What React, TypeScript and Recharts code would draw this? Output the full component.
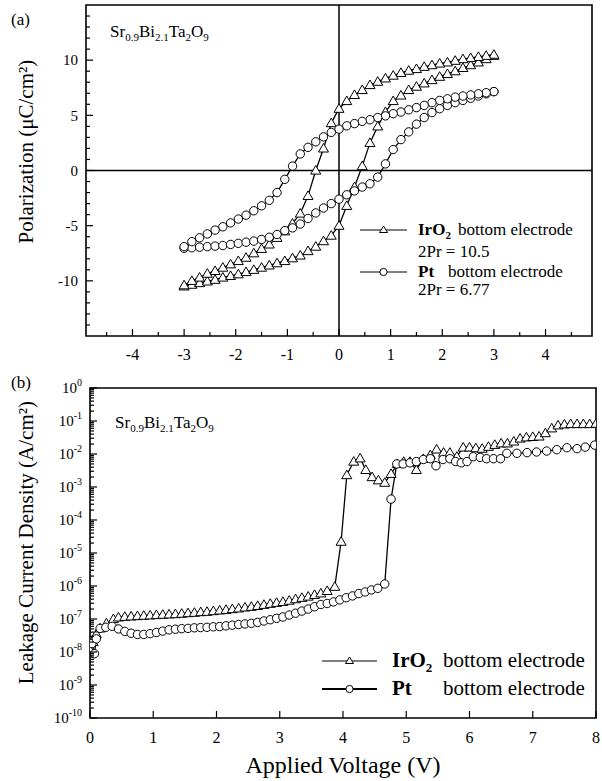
import React from 'react';
import { LineChart, Line, XAxis, YAxis, ReferenceLine, ReferenceArea } from 'recharts';

const FONT = '"Liberation Serif", "DejaVu Serif", "Noto Serif", serif';

// (a) polarization loops, voltage steps of the sweep (V)
const sweepUp = [-3, -2.85, -2.7, -2.55, -2.4, -2.25, -2.1, -1.95, -1.8, -1.65, -1.5, -1.35, -1.2, -1.05, -0.9, -0.75, -0.6, -0.45, -0.3, -0.15, 0, 0.15, 0.3, 0.45, 0.6, 0.75, 0.9, 1.05, 1.2, 1.35, 1.5, 1.65, 1.8, 1.95, 2.1, 2.25, 2.4, 2.55, 2.7, 2.85, 3];
const sweepDown = [...sweepUp].reverse();

// polarization (uC/cm2)
const irO2Up = [-10.5, -10.35, -10.2, -10.05, -9.9, -9.7, -9.55, -9.4, -9.2, -9.0, -8.8, -8.6, -8.4, -8.2, -7.95, -7.7, -7.3, -6.9, -6.4, -5.9, -5.0, -3.2, -1.5, 0.4, 2.5, 4.0, 5.3, 6.3, 6.8, 7.3, 7.6, 7.9, 8.2, 8.5, 8.75, 9.0, 9.3, 9.55, 9.8, 10.1, 10.4];
const irO2Down = [10.5, 10.4, 10.3, 10.2, 10.1, 9.95, 9.8, 9.7, 9.55, 9.4, 9.2, 9.05, 8.85, 8.6, 8.35, 8.05, 7.75, 7.3, 6.85, 6.3, 5.6, 4.3, 2.0, 0.0, -2.3, -3.9, -4.8, -5.5, -6.1, -6.7, -7.1, -7.5, -7.9, -8.2, -8.5, -8.8, -9.1, -9.35, -9.7, -10.0, -10.4];
const ptUp = [-7.05, -7.0, -6.95, -6.9, -6.85, -6.8, -6.7, -6.6, -6.5, -6.4, -6.25, -6.05, -5.8, -5.45, -5.2, -4.85, -4.35, -3.85, -3.4, -3.0, -2.6, -2.2, -1.85, -1.5, -1.2, -0.6, 0.6, 1.9, 2.8, 3.5, 4.2, 4.8, 5.25, 5.6, 5.9, 6.15, 6.35, 6.55, 6.75, 6.95, 7.15];
const ptDown = [7.15, 7.05, 6.95, 6.85, 6.75, 6.65, 6.5, 6.35, 6.15, 5.9, 5.7, 5.5, 5.3, 5.15, 4.95, 4.8, 4.6, 4.45, 4.25, 4.05, 3.75, 3.45, 3.05, 2.6, 2.1, 1.5, 0.4, -0.8, -2.0, -2.7, -3.2, -3.65, -4.05, -4.4, -4.75, -5.1, -5.4, -5.75, -6.1, -6.45, -6.9];

// (b) leakage current density (A/cm2) vs applied voltage (V)
const irO2Volts = [0, 0.05, 0.1, 0.16, 0.26, 0.37, 0.45, 0.55, 0.65, 0.75, 0.85, 0.95, 1.05, 1.15, 1.25, 1.35, 1.45, 1.55, 1.65, 1.75, 1.85, 1.95, 2.05, 2.15, 2.25, 2.35, 2.45, 2.55, 2.65, 2.75, 2.85, 2.95, 3.05, 3.15, 3.25, 3.35, 3.45, 3.55, 3.65, 3.75, 3.87, 3.97, 4.06, 4.17, 4.27, 4.36, 4.46, 4.56, 4.66, 4.76, 4.86, 4.96, 5.06, 5.16, 5.27, 5.38, 5.48, 5.59, 5.69, 5.8, 5.9, 6.0, 6.1, 6.2, 6.3, 6.4, 6.5, 6.6, 6.7, 6.8, 6.9, 7.0, 7.1, 7.2, 7.3, 7.4, 7.5, 7.6, 7.7, 7.8, 7.9, 8.0];
const irO2Current = [1.15e-8, 2.0e-8, 3.5e-8, 5.2e-8, 7.4e-8, 1.0e-7, 1.12e-7, 1.17e-7, 1.2e-7, 1.23e-7, 1.26e-7, 1.29e-7, 1.32e-7, 1.35e-7, 1.38e-7, 1.41e-7, 1.45e-7, 1.51e-7, 1.55e-7, 1.62e-7, 1.66e-7, 1.74e-7, 1.82e-7, 1.9e-7, 2.0e-7, 2.1e-7, 2.24e-7, 2.35e-7, 2.5e-7, 2.7e-7, 2.9e-7, 3.1e-7, 3.3e-7, 3.6e-7, 4.0e-7, 4.4e-7, 4.8e-7, 5.4e-7, 6.0e-7, 7.1e-7, 9.5e-7, 2.2e-5, 2.3e-3, 5.9e-3, 7.4e-3, 3.3e-3, 2.0e-3, 1.6e-3, 1.35e-3, 2.5e-3, 5.0e-3, 5.8e-3, 5.8e-3, 3.3e-3, 7.1e-3, 9.3e-3, 1.38e-2, 1.1e-2, 1.1e-2, 8.3e-3, 1.58e-2, 1.58e-2, 1.5e-2, 1.45e-2, 1.66e-2, 1.9e-2, 2.1e-2, 2.1e-2, 2.4e-2, 2.95e-2, 3.2e-2, 3.3e-2, 3.4e-2, 4.3e-2, 6.0e-2, 7.4e-2, 7.9e-2, 8.1e-2, 8.1e-2, 8.1e-2, 8.1e-2, 8.3e-2];
const ptVolts = [0.03, 0.07, 0.1, 0.16, 0.25, 0.35, 0.45, 0.55, 0.65, 0.75, 0.85, 0.95, 1.05, 1.15, 1.25, 1.35, 1.45, 1.55, 1.65, 1.75, 1.85, 1.95, 2.05, 2.15, 2.25, 2.35, 2.45, 2.55, 2.65, 2.75, 2.85, 2.95, 3.05, 3.15, 3.25, 3.35, 3.45, 3.55, 3.65, 3.75, 3.85, 3.95, 4.05, 4.15, 4.25, 4.35, 4.45, 4.55, 4.66, 4.76, 4.85, 4.95, 5.06, 5.16, 5.27, 5.38, 5.47, 5.58, 5.69, 5.78, 5.87, 5.96, 6.06, 6.17, 6.27, 6.38, 6.49, 6.59, 6.75, 6.91, 7.06, 7.22, 7.38, 7.54, 7.7, 7.83, 7.98];
const ptCurrent = [1.8e-8, 8.9e-9, 2.5e-8, 5.2e-8, 5.6e-8, 6.0e-8, 5.0e-8, 4.2e-8, 3.7e-8, 3.4e-8, 3.4e-8, 3.6e-8, 3.9e-8, 4.3e-8, 4.7e-8, 4.9e-8, 5.1e-8, 5.2e-8, 5.4e-8, 5.5e-8, 5.6e-8, 5.8e-8, 5.9e-8, 6.2e-8, 6.5e-8, 6.8e-8, 7.1e-8, 7.4e-8, 7.9e-8, 8.7e-8, 9.5e-8, 1.05e-7, 1.15e-7, 1.32e-7, 1.5e-7, 1.74e-7, 2.0e-7, 2.35e-7, 2.75e-7, 2.95e-7, 3.3e-7, 3.8e-7, 4.4e-7, 5.0e-7, 5.9e-7, 6.6e-7, 7.6e-7, 8.5e-7, 1.15e-6, 4.3e-4, 5.0e-3, 5.0e-3, 5.4e-3, 5.9e-3, 6.8e-3, 7.2e-3, 4.4e-3, 6.8e-3, 7.2e-3, 5.9e-3, 5.4e-3, 5.9e-3, 8.3e-3, 7.9e-3, 7.2e-3, 7.2e-3, 7.2e-3, 1.05e-2, 1.05e-2, 1.1e-2, 1.15e-2, 1.23e-2, 1.35e-2, 1.55e-2, 1.45e-2, 1.62e-2, 1.86e-2];

// axis ticks
const polTicks: number[] = [];
for (let i = -14; i <= 14; i++) polTicks.push(i);
const polMajor = [-10, -5, 0, 5, 10];
const fieldTicks: number[] = [];
for (let i = -9; i <= 9; i++) fieldTicks.push(i / 2);
const fieldMajor = [-4, -3, -2, -1, 0, 1, 2, 3, 4];
const voltTicks = [0, 1, 2, 3, 4, 5, 6, 7, 8];
const decadeExps = [-10, -9, -8, -7, -6, -5, -4, -3, -2, -1, 0];
const decades = decadeExps.map((e) => Number(`1e${e}`));
const currentTicks: number[] = [...decades];
for (let e = -10; e < 0; e++) for (let m = 2; m <= 9; m++) currentTicks.push(m * Math.pow(10, e));

const zip = (xs: number[], ys: number[], k: string) =>
  xs.slice(0, Math.min(xs.length, ys.length)).map((x, i) => ({ v: x, [k]: ys[i] }));

const triangleDot = (props: any) => {
  const { cx, cy, index } = props;
  if (cx == null || cy == null) return <g key={index} />;
  return (
    <path key={index} d={`M${cx},${cy - 5} L${cx + 5},${cy + 3.6} L${cx - 5},${cy + 3.6} Z`}
      fill="#fff" stroke="#000" strokeWidth={1} />
  );
};
const circleDot = (props: any) => {
  const { cx, cy, index } = props;
  if (cx == null || cy == null) return <g key={index} />;
  return <circle key={index} cx={cx} cy={cy} r={4.2} fill="#fff" stroke="#000" strokeWidth={1} />;
};

const leftTick = (majors: number[], fmt: (v: number) => React.ReactNode) => (props: any) => {
  const { x, y, payload } = props;
  const major = majors.includes(payload.value);
  return (
    <g>
      <line x1={x} y1={y} x2={x + (major ? 7 : 4)} y2={y} stroke="#000" strokeWidth={1.2} />
      {major && (
        <text x={x - 8} y={y} dy="0.35em" textAnchor="end" fontFamily={FONT} fontSize={15} fill="#000">
          {fmt(payload.value)}
        </text>
      )}
    </g>
  );
};

const bottomTick = (majors: number[], gap: number) => (props: any) => {
  const { x, y, payload } = props;
  const major = majors.includes(payload.value);
  return (
    <g>
      <line x1={x} y1={y} x2={x} y2={y - (major ? 7 : 4)} stroke="#000" strokeWidth={1.2} />
      {major && (
        <text x={x} y={y + gap} textAnchor="middle" fontFamily={FONT} fontSize={16} fill="#000">
          {String(payload.value)}
        </text>
      )}
    </g>
  );
};

const decadeLabel = (v: number) => {
  const e = decadeExps[decades.indexOf(v)];
  return (
    <>
      10<tspan dy={-7} fontSize={10}>{String(e)}</tspan>
    </>
  );
};

const Formula = () => (
  <span>
    Sr<sub style={{ fontSize: 11 }}>0.9</sub>Bi<sub style={{ fontSize: 11 }}>2.1</sub>Ta
    <sub style={{ fontSize: 11 }}>2</sub>O<sub style={{ fontSize: 11 }}>9</sub>
  </span>
);

const Symbol = ({ shape, width, sw }: { shape: 'tri' | 'circ'; width: number; sw: number }) => (
  <svg width={width} height={12} style={{ display: 'block' }}>
    <line x1={0} y1={6} x2={width} y2={6} stroke="#000" strokeWidth={sw} />
    {shape === 'tri' ? (
      <path d={`M${width / 2},2 L${width / 2 + 4},8.5 L${width / 2 - 4},8.5 Z`} fill="#fff" stroke="#000" strokeWidth={1} />
    ) : (
      <circle cx={width / 2} cy={6} r={3.6} fill="#fff" stroke="#000" strokeWidth={1} />
    )}
  </svg>
);

const at = (left: number, center: number, size: number, extra: React.CSSProperties = {}): React.CSSProperties => ({
  position: 'absolute',
  left,
  top: center - size * 0.6,
  fontSize: size,
  lineHeight: `${size * 1.2}px`,
  whiteSpace: 'nowrap',
  ...extra,
});

const rotated = (cx: number, cy: number, size: number): React.CSSProperties => ({
  position: 'absolute',
  left: cx - 200,
  top: cy - size * 0.6,
  width: 400,
  textAlign: 'center',
  fontSize: size,
  lineHeight: `${size * 1.2}px`,
  whiteSpace: 'nowrap',
  transform: 'rotate(-90deg)',
});

export default function App() {
  const lineProps = { stroke: '#000', strokeWidth: 1.3, type: 'linear' as const, isAnimationActive: false, activeDot: false };
  return (
    <div style={{ position: 'absolute', left: 0, top: 0, width: 602, height: 781, background: '#fff', fontFamily: FONT, color: '#000' }}>
      <div style={{ position: 'absolute', left: 0, top: 0 }}>
        <LineChart width={602} height={366} margin={{ top: 5, right: 10, bottom: 0, left: 0 }}>
          <XAxis dataKey="v" type="number" domain={[-4.9, 4.9]} ticks={fieldTicks} interval={0} height={30}
            tickSize={0} tickMargin={0} axisLine={false} tickLine={false} tick={bottomTick(fieldMajor, 24)} allowDataOverflow />
          <YAxis type="number" domain={[-15, 15]} ticks={polTicks} interval={0} width={86}
            tickSize={0} tickMargin={0} axisLine={false} tickLine={false} tick={leftTick(polMajor, (v) => String(v))} allowDataOverflow />
          <ReferenceArea x1={-4.9} x2={4.9} y1={-15} y2={15} fill="none" stroke="#000" strokeWidth={1.6} />
          <ReferenceLine x={0} stroke="#000" strokeWidth={1.5} />
          <ReferenceLine y={0} stroke="#000" strokeWidth={1.5} />
          <Line data={zip(sweepUp, irO2Up, 'p')} dataKey="p" dot={triangleDot} {...lineProps} />
          <Line data={zip(sweepDown, irO2Down, 'p')} dataKey="p" dot={triangleDot} {...lineProps} />
          <Line data={zip(sweepUp, ptUp, 'p')} dataKey="p" dot={circleDot} {...lineProps} />
          <Line data={zip(sweepDown, ptDown, 'p')} dataKey="p" dot={circleDot} {...lineProps} />
        </LineChart>
      </div>

      <div style={{ position: 'absolute', left: 0, top: 368 }}>
        <LineChart width={602} height={413} margin={{ top: 20, right: 6, bottom: 0, left: 0 }}>
          <XAxis dataKey="v" type="number" domain={[0, 8]} ticks={voltTicks} interval={0} height={63}
            tickSize={0} tickMargin={0} axisLine={false} tickLine={false} tick={bottomTick(voltTicks, 25)} allowDataOverflow />
          <YAxis type="number" scale="log" domain={[1e-10, 1]} ticks={currentTicks} interval={0} width={90}
            tickSize={0} tickMargin={0} axisLine={false} tickLine={false} tick={leftTick(decades, decadeLabel)} allowDataOverflow />
          <ReferenceArea x1={0} x2={8} y1={1e-10} y2={1} fill="none" stroke="#000" strokeWidth={1.6} />
          <Line data={zip(irO2Volts, irO2Current, 'j')} dataKey="j" dot={triangleDot} {...lineProps} />
          <Line data={zip(ptVolts, ptCurrent, 'j')} dataKey="j" dot={circleDot} {...lineProps} />
        </LineChart>
      </div>

      {/* panel (a) text */}
      <div style={at(11, 20, 17)}>(a)</div>
      <div style={at(110, 32, 17)}><Formula /></div>
      <div style={rotated(27, 152, 21)}>Polarization (μC/cm²)</div>
      <div style={{ position: 'absolute', left: 360, top: 224 }}><Symbol shape="tri" width={47} sw={1} /></div>
      <div style={at(418, 230, 17)}><b>IrO<sub style={{ fontSize: 11 }}>2</sub></b></div>
      <div style={at(458, 230, 17)}>bottom electrode</div>
      <div style={at(418, 252, 17)}>2Pr = 10.5</div>
      <div style={{ position: 'absolute', left: 360, top: 266 }}><Symbol shape="circ" width={47} sw={1} /></div>
      <div style={at(418, 272, 17)}><b>Pt</b></div>
      <div style={at(448, 272, 17)}>bottom electrode</div>
      <div style={at(418, 290, 17)}>2Pr = 6.77</div>

      {/* panel (b) text */}
      <div style={at(11, 383, 17)}>(b)</div>
      <div style={at(115, 423, 17)}><Formula /></div>
      <div style={rotated(27, 543, 21)}>Leakage Current Density  (A/cm²)</div>
      <div style={{ position: 'absolute', left: 322, top: 655 }}><Symbol shape="tri" width={55} sw={1} /></div>
      <div style={at(392, 661, 21)}><b>IrO<sub style={{ fontSize: 13 }}>2</sub></b></div>
      <div style={at(443, 661, 21)}>bottom electrode</div>
      <div style={{ position: 'absolute', left: 322, top: 683 }}><Symbol shape="circ" width={55} sw={2} /></div>
      <div style={at(392, 689, 21)}><b>Pt</b></div>
      <div style={at(443, 689, 21)}>bottom electrode</div>
      <div style={{ ...at(0, 765, 24), width: 686, textAlign: 'center' }}>Applied Voltage (V)</div>
    </div>
  );
}
